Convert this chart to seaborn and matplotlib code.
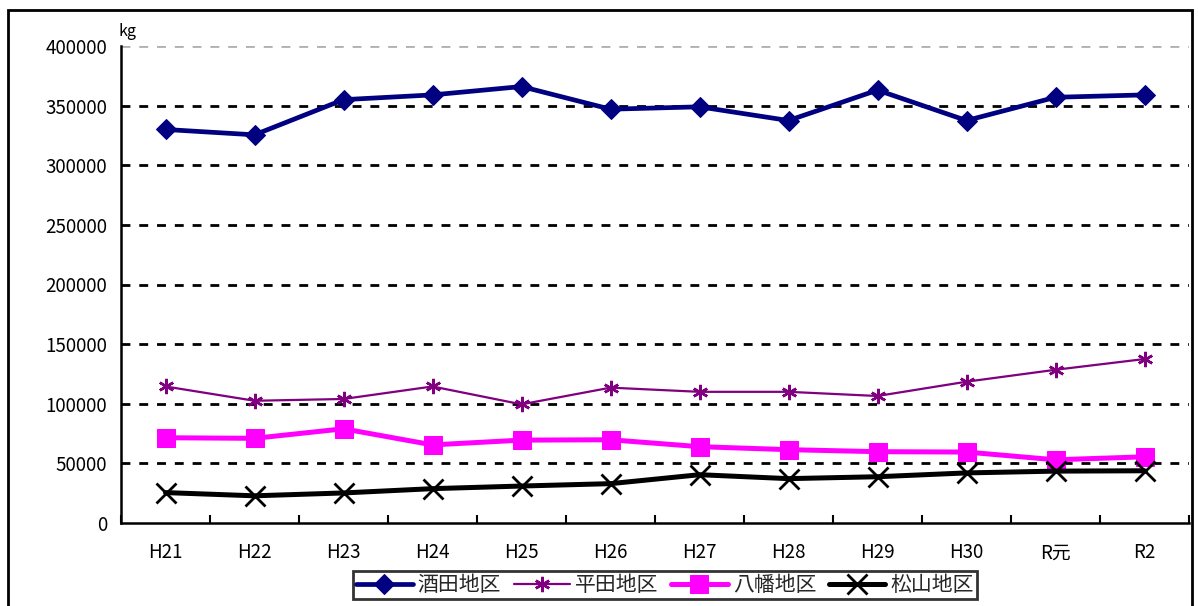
import numpy as np
import pandas as pd
import matplotlib
matplotlib.use("Agg")
import matplotlib.pyplot as plt
from matplotlib.patches import Rectangle
import seaborn as sns

# data (kg)
years = ['H21', 'H22', 'H23', 'H24', 'H25', 'H26', 'H27', 'H28', 'H29', 'H30', 'R元', 'R2']
sakata = [330000, 325500, 355000, 359000, 366000, 347000, 349000, 337500, 363000, 337500, 357000, 359000]
hirata = [114500, 102500, 104000, 114500, 99500, 113500, 110000, 110000, 106500, 118500, 128500, 137500]
yawata = [71500, 71000, 79000, 65500, 69500, 69800, 64000, 61500, 59800, 59500, 53000, 55500]
matsuyama = [25500, 22800, 25200, 28800, 31000, 33000, 40500, 37200, 38800, 42000, 43500, 43800]
names = ['酒田地区', '平田地区', '八幡地区', '松山地区']

df = pd.DataFrame({'年度': years, names[0]: sakata, names[1]: hirata,
                   names[2]: yawata, names[3]: matsuyama})

sns.set_theme(style='white')
plt.rcParams['font.family'] = ['Noto Sans CJK JP', 'DejaVu Sans']

fig = plt.figure(figsize=(11.98, 6.06), dpi=100)
W, H = 1198, 606
ax = fig.add_axes([121 / W, 1 - 523 / H, (1189 - 121) / W, (523 - 46) / H])

# styles per series
styles = {
    '酒田地区': dict(color='#000080', marker='D', markersize=10.5, linewidth=3.4),
    '平田地区': dict(color='#800080', marker=(6, 2, 0), markersize=11, linewidth=1.6, markeredgewidth=1.8),
    '八幡地区': dict(color='#FF00FF', marker='s', markersize=12.5, linewidth=3.6),
    '松山地区': dict(color='#000000', marker='x', markersize=15, linewidth=3.6, markeredgewidth=2),
}
for n in names:
    st = styles[n]
    sns.lineplot(data=df, x='年度', y=n, ax=ax, label=n, sort=False,
                 markeredgecolor=st['color'], markerfacecolor=st['color'], **st)

ax.set_ylim(0, 400000)
ax.set_xlim(-0.5, len(years) - 0.5)
ax.set_yticks(np.arange(0, 400001, 50000))
ax.set_yticklabels([str(v) for v in range(0, 400001, 50000)], fontsize=13.5)
ax.set_xlabel('')
ax.set_ylabel('')

# gridlines
for v in range(50000, 400001, 50000):
    ax.axhline(v, color='#b0b0b0' if v == 400000 else 'black', linewidth=2,
               linestyle=(0, (3.2, 3.2)), zorder=0.5)

# spines
for s in ['top', 'right']:
    ax.spines[s].set_visible(False)
for s in ['left', 'bottom']:
    ax.spines[s].set_color('black')
    ax.spines[s].set_linewidth(1.8)

# x ticks at category boundaries, labels centered
ax.set_xticks(np.arange(len(years)))
ax.set_xticklabels(years, fontsize=13.5)
ax.set_xticks(np.arange(-0.5, len(years)), minor=True)
ax.tick_params(axis='x', which='major', length=0, pad=14, colors='black')
ax.tick_params(axis='x', which='minor', direction='in', length=6, width=1.5, color='black', bottom=True)
ax.tick_params(axis='y', which='major', length=0, pad=10, colors='black')

fig.text(119 / W, 1 - 36 / H, 'kg', fontsize=11.5, color='black')

leg = ax.legend(loc='center', bbox_to_anchor=((665 - 121) / (1189 - 121), -(585 - 523) / (523 - 46)),
                ncol=4, fontsize=15, frameon=True, fancybox=False, edgecolor='black',
                handlelength=2.7, handletextpad=0.25, columnspacing=0.6, borderpad=0.15)
leg.get_frame().set_linewidth(2)

# outer frame
fig.patches.append(Rectangle((8 / W, -0.02), (1192 - 8) / W, 1 - 10 / H + 0.02,
                             transform=fig.transFigure, fill=False, edgecolor='black', linewidth=2))

fig.savefig('out.png', dpi=100)
